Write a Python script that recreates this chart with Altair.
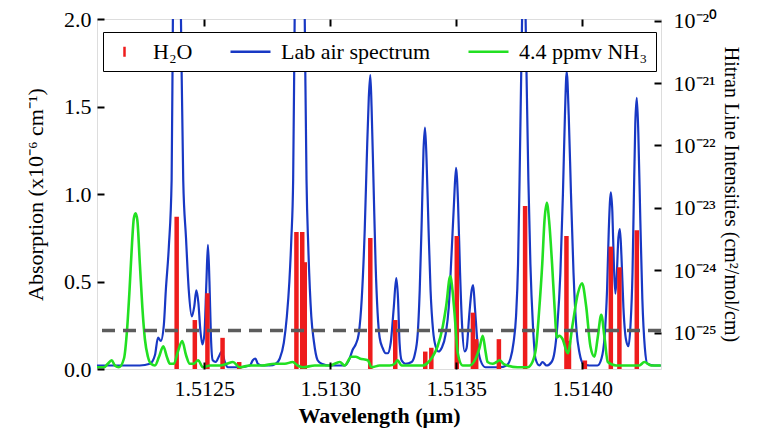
import altair as alt
import pandas as pd

# ---------------- data ----------------
# Lab air spectrum (absorption, x1e-6 cm^-1) vs wavelength (um)
blue_wl = [1.512075, 1.512126, 1.512186, 1.512245, 1.512285, 1.512305, 1.512317, 1.512328,
           1.512340, 1.512348, 1.512360, 1.512371, 1.512376, 1.512384, 1.512392, 1.512400,
           1.512408, 1.512417, 1.512428, 1.512439, 1.512451, 1.512461, 1.512469, 1.512477,
           1.512485, 1.512493, 1.512501, 1.512509, 1.512515, 1.512521, 1.512527, 1.512534,
           1.512546, 1.512558, 1.512570, 1.512582, 1.512594, 1.512641, 1.512681, 1.512693,
           1.512703, 1.512713, 1.512729, 1.512760, 1.512784, 1.512800, 1.512816, 1.512828,
           1.512838, 1.512846, 1.512853, 1.512859, 1.512867, 1.512879, 1.512891, 1.512899,
           1.512906, 1.512913, 1.512925, 1.512935, 1.512950, 1.512966, 1.512998, 1.513057,
           1.513077, 1.513089, 1.513101, 1.513113, 1.513125, 1.513137, 1.513145, 1.513153,
           1.513159, 1.513164, 1.513172, 1.513180, 1.513188, 1.513196, 1.513208, 1.513220,
           1.513228, 1.513240, 1.513252, 1.513262, 1.513269, 1.513275, 1.513283, 1.513299,
           1.513323, 1.513335, 1.513347, 1.513355, 1.513363, 1.513370, 1.513376, 1.513382,
           1.513390, 1.513398, 1.513408, 1.513418, 1.513430, 1.513442, 1.513458, 1.513470,
           1.513481, 1.513491, 1.513499, 1.513507, 1.513515, 1.513523, 1.513533, 1.513541,
           1.513551, 1.513561, 1.513567, 1.513574, 1.513584, 1.513596, 1.513616, 1.513672,
           1.513699, 1.513715, 1.513727, 1.513737, 1.513745, 1.513751, 1.513761, 1.513769,
           1.513775, 1.513786, 1.513794, 1.513804, 1.513814, 1.513830, 1.513842, 1.513858,
           1.513878, 1.513890, 1.513901, 1.513913, 1.513923, 1.513931, 1.513938, 1.513946,
           1.513955, 1.513965, 1.513977, 1.513989, 1.514004, 1.514028, 1.514060, 1.514076,
           1.514088, 1.514098, 1.514105, 1.514113, 1.514119, 1.514125, 1.514131, 1.514137,
           1.514143, 1.514149, 1.514155, 1.514163, 1.514173, 1.514183, 1.514191, 1.514199,
           1.514204, 1.514210, 1.514216, 1.514222, 1.514230, 1.514238, 1.514248, 1.514258,
           1.514286, 1.514311]
blue_abs = [0.02, 0.02, 0.02, 0.02, 0.03, 0.08, 0.18, 0.16,
            0.25, 0.45, 0.70, 1.08, 2.00, 2.80, 3.10, 2.80,
            2.00, 1.08, 0.75, 0.45, 0.30, 0.36, 0.45, 0.38,
            0.22, 0.14, 0.20, 0.50, 0.71, 0.50, 0.18, 0.05,
            0.04, 0.07, 0.10, 0.04, 0.01, 0.01, 0.02, 0.05,
            0.06, 0.03, 0.02, 0.02, 0.03, 0.06, 0.15, 0.30,
            0.50, 0.75, 1.08, 2.00, 2.90, 3.20, 2.90, 2.00,
            1.08, 0.70, 0.30, 0.16, 0.05, 0.03, 0.02, 0.02,
            0.06, 0.11, 0.14, 0.20, 0.40, 0.80, 1.20, 1.55,
            1.68, 1.50, 1.05, 0.60, 0.32, 0.18, 0.12, 0.09,
            0.09, 0.15, 0.35, 0.52, 0.40, 0.15, 0.05, 0.03,
            0.04, 0.08, 0.20, 0.45, 0.85, 1.25, 1.38, 1.20,
            0.80, 0.45, 0.22, 0.13, 0.10, 0.12, 0.20, 0.35,
            0.65, 0.95, 1.15, 0.95, 0.55, 0.25, 0.10, 0.12,
            0.30, 0.45, 0.48, 0.35, 0.15, 0.05, 0.01, 0.01,
            0.02, 0.06, 0.15, 0.30, 0.60, 1.08, 2.00, 2.50,
            2.00, 1.08, 0.60, 0.25, 0.06, 0.02, 0.04, 0.02,
            0.04, 0.10, 0.25, 0.55, 1.00, 1.45, 1.70, 1.45,
            1.00, 0.55, 0.22, 0.09, 0.03, 0.02, 0.02, 0.06,
            0.18, 0.45, 0.80, 1.01, 0.90, 0.60, 0.43, 0.55,
            0.75, 0.80, 0.65, 0.35, 0.17, 0.13, 0.25, 0.55,
            0.95, 1.40, 1.55, 1.35, 0.85, 0.40, 0.12, 0.03,
            0.02, 0.02]

# 4.4 ppmv NH3 spectrum
nh3_wl = [1.512075, 1.512103, 1.512118, 1.512133, 1.512146, 1.512162, 1.512182, 1.512194,
          1.512204, 1.512214, 1.512221, 1.512228, 1.512235, 1.512245, 1.512255, 1.512265,
          1.512277, 1.512289, 1.512305, 1.512321, 1.512338, 1.512352, 1.512364, 1.512380,
          1.512396, 1.512413, 1.512428, 1.512443, 1.512459, 1.512476, 1.512495, 1.512523,
          1.512562, 1.512590, 1.512614, 1.512641, 1.512681, 1.512729, 1.512780, 1.512820,
          1.512851, 1.512871, 1.512891, 1.512939, 1.512998, 1.513038, 1.513057, 1.513084,
          1.513101, 1.513117, 1.513149, 1.513164, 1.513196, 1.513236, 1.513256, 1.513267,
          1.513283, 1.513323, 1.513367, 1.513390, 1.513406, 1.513426, 1.513446, 1.513460,
          1.513476, 1.513485, 1.513493, 1.513506, 1.513525, 1.513553, 1.513577, 1.513592,
          1.513605, 1.513616, 1.513624, 1.513644, 1.513660, 1.513672, 1.513687, 1.513703,
          1.513743, 1.513783, 1.513802, 1.513817, 1.513828, 1.513841, 1.513850, 1.513859,
          1.513868, 1.513880, 1.513890, 1.513899, 1.513909, 1.513922, 1.513942, 1.513962,
          1.513982, 1.513999, 1.514015, 1.514032, 1.514048, 1.514061, 1.514075, 1.514088,
          1.514101, 1.514134, 1.514187, 1.514226, 1.514246, 1.514273, 1.514311]
nh3_abs = [0.01, 0.01, 0.03, 0.05, 0.02, 0.01, 0.06, 0.22,
           0.45, 0.72, 0.86, 0.89, 0.85, 0.60, 0.35, 0.17,
           0.07, 0.03, 0.02, 0.07, 0.13, 0.07, 0.03, 0.03,
           0.10, 0.16, 0.08, 0.03, 0.03, 0.05, 0.01, 0.02,
           0.02, 0.03, 0.04, 0.01, 0.02, 0.02, 0.03, 0.03,
           0.04, 0.02, 0.01, 0.02, 0.02, 0.04, 0.02, 0.07,
           0.07, 0.06, 0.05, 0.01, 0.02, 0.02, 0.03, 0.05,
           0.02, 0.02, 0.02, 0.04, 0.07, 0.13, 0.24, 0.36,
           0.53, 0.45, 0.32, 0.09, 0.02, 0.02, 0.06, 0.12,
           0.19, 0.10, 0.04, 0.03, 0.04, 0.05, 0.03, 0.02,
           0.01, 0.01, 0.04, 0.13, 0.32, 0.60, 0.85, 0.95,
           0.85, 0.60, 0.35, 0.18, 0.19, 0.17, 0.09, 0.26,
           0.43, 0.49, 0.36, 0.13, 0.07, 0.18, 0.31, 0.18,
           0.04, 0.02, 0.02, 0.02, 0.04, 0.02, 0.02]

# HITRAN H2O line positions and intensities (cm^2/mol/cm)
h2o_wl = [1.512391, 1.512463, 1.512513, 1.512573, 1.512639, 1.512866, 1.512889, 1.512899,
          1.513159, 1.513258, 1.513377, 1.513401, 1.513502, 1.513566, 1.513579, 1.513669,
          1.513773, 1.513937, 1.513947, 1.514010, 1.514113, 1.514147, 1.514216]
h2o_int = [7.2e-24, 1.6e-25, 4.3e-25, 8.3e-26, 3.4e-26, 4.1e-24, 4.1e-24, 1.35e-24,
           3.3e-24, 1.6e-25, 5.0e-26, 5.75e-26, 3.55e-24, 2.1e-25, 7.9e-26, 7.9e-26,
           1.07e-23, 3.55e-24, 7.4e-26, 3.6e-26, 2.4e-24, 1.12e-24, 4.4e-24]

threshold = [0.22]

x_ticks = [1.5125, 1.5130, 1.5135, 1.5140]
y_ticks = [0.0, 0.5, 1.0, 1.5, 2.0]
r_ticks = [1e-25, 1e-24, 1e-23, 1e-22, 1e-21, 1e-20]

X_DOMAIN = [1.512075, 1.514312]
Y_DOMAIN = [0.0, 2.0]
R_DOMAIN = [2.63e-26, 1.06e-20]

SERIES = ["H₂O", "Lab air spectrum", "4.4 ppmv NH₃"]
COLORS = ["#ee1c1c", "#1838c4", "#22e022"]
SYMBOLS = ["M0.2,-0.5L0.2,0.5", "M-2,0L2,0", "M-2,0L2,0"]

FONT = "Liberation Serif"

blue_df = pd.DataFrame({"wl": blue_wl, "val": blue_abs, "series": SERIES[1]})
nh3_df = pd.DataFrame({"wl": nh3_wl, "val": nh3_abs, "series": SERIES[2]})
h2o_df = pd.DataFrame({"wl": h2o_wl, "I": h2o_int, "series": SERIES[0]})
h2o_df["base"] = R_DOMAIN[0]
thr_df = pd.DataFrame({"val": threshold})

# ---------------- scales ----------------
xs = alt.Scale(domain=X_DOMAIN, nice=False, zero=False)
ys = alt.Scale(domain=Y_DOMAIN, nice=False, zero=False)
rs = alt.Scale(type="log", domain=R_DOMAIN, nice=False)

legend = alt.Legend(
    title=None, orient="none", legendX=6, legendY=13, direction="horizontal",
    fillColor="white", strokeColor="black", padding=8, columnPadding=32,
    symbolSize=400, symbolStrokeWidth=2.5, labelOffset=19,
    labelFont=FONT, labelFontSize=22, labelColor="black", zindex=1,
)
color = alt.Color("series:N", scale=alt.Scale(domain=SERIES, range=COLORS), legend=legend)
shape = alt.Shape("series:N", scale=alt.Scale(domain=SERIES, range=SYMBOLS), legend=legend)

common_lab = dict(labelFont=FONT, labelColor="black", titleFont=FONT, titleColor="black",
                  grid=False, domain=False)
tick_ax = dict(labels=False, domain=False, grid=False, ticks=True, tickSize=7, tickWidth=2,
               tickColor="black", offset=-7, title=None, zindex=1)

x_main = alt.Axis(orient="bottom", values=x_ticks, format=".4f", ticks=False, tickSize=0,
                  labelFontSize=22, labelPadding=9, title="Wavelength (μm)", titleFontSize=22,
                  titleFontWeight="bold", titlePadding=6, **common_lab)
y_main = alt.Axis(orient="left", values=y_ticks, format=".1f", ticks=False, tickSize=0,
                  labelFontSize=22, labelPadding=6, title="Absorption (x10⁻⁶ cm⁻¹)",
                  titleFontSize=22, titleFontWeight="normal", titlePadding=16, **common_lab)
r_main = alt.Axis(orient="right", values=r_ticks, ticks=False, tickSize=0, labelFontSize=22,
                  labelPadding=12,
                  labelExpr="['10⁻²⁵','10⁻²⁴','10⁻²³','10⁻²²','10⁻²¹','10⁻²⁰'][round(log(datum.value)/LN10)+25]",
                  title="Hitran Line Intensities (cm²/mol/cm)", titleFontSize=20,
                  titleFontWeight="normal", titlePadding=4, **common_lab)

x_tick_top = alt.Axis(orient="top", values=x_ticks, **tick_ax)
x_tick_bottom = alt.Axis(orient="bottom", values=x_ticks, **tick_ax)
y_tick_left = alt.Axis(orient="left", values=y_ticks, **tick_ax)
r_tick_right = alt.Axis(orient="right", values=r_ticks, **tick_ax)

# ---------------- layers ----------------
blue = alt.Chart(blue_df).mark_line(strokeWidth=2.2, interpolate="monotone", clip=True).encode(
    x=alt.X("wl:Q", scale=xs, axis=x_main),
    y=alt.Y("val:Q", scale=ys, axis=y_main),
    color=color,
)

red = alt.Chart(h2o_df).mark_rule(strokeWidth=4.5, clip=True).encode(
    x=alt.X("wl:Q", scale=xs, axis=None),
    y=alt.Y("I:Q", scale=rs, axis=r_main),
    y2="base:Q",
    color=color,
)

green = alt.Chart(nh3_df).mark_line(strokeWidth=2.6, interpolate="monotone", clip=True).encode(
    x=alt.X("wl:Q", scale=xs, axis=x_tick_top),
    y=alt.Y("val:Q", scale=ys, axis=y_tick_left),
    color=color,
)

dashed = alt.Chart(thr_df).mark_rule(strokeWidth=3.5, strokeDash=[13, 8], color="#5c5c5c").encode(
    y=alt.Y("val:Q", scale=ys, axis=None),
)

ticks_layer = alt.Chart(h2o_df).mark_point(opacity=0).encode(
    x=alt.X("wl:Q", scale=xs, axis=x_tick_bottom),
    y=alt.Y("I:Q", scale=rs, axis=r_tick_right),
)

legend_layer = alt.Chart(h2o_df).transform_filter("datum.I < 0").mark_point(
    opacity=1, filled=False, strokeWidth=2.5
).encode(
    x=alt.X("wl:Q", scale=xs, axis=None),
    y=alt.Y("I:Q", scale=rs, axis=None),
    color=color,
    shape=shape,
)

chart = (
    alt.layer(blue, red, green, dashed, ticks_layer, legend_layer)
    .resolve_scale(x="independent", y="independent")
    .resolve_axis(x="independent", y="independent")
    .properties(
        width=564, height=350,
        padding={"left": 89, "top": 11, "right": 91, "bottom": 61},
        autosize=alt.AutoSizeParams(type="none"),
        background="white",
    )
    .configure_view(stroke="black", strokeWidth=2.2)
    .configure(font=FONT)
)

chart.save("out.html", embed_options={"renderer": "svg", "actions": False})
